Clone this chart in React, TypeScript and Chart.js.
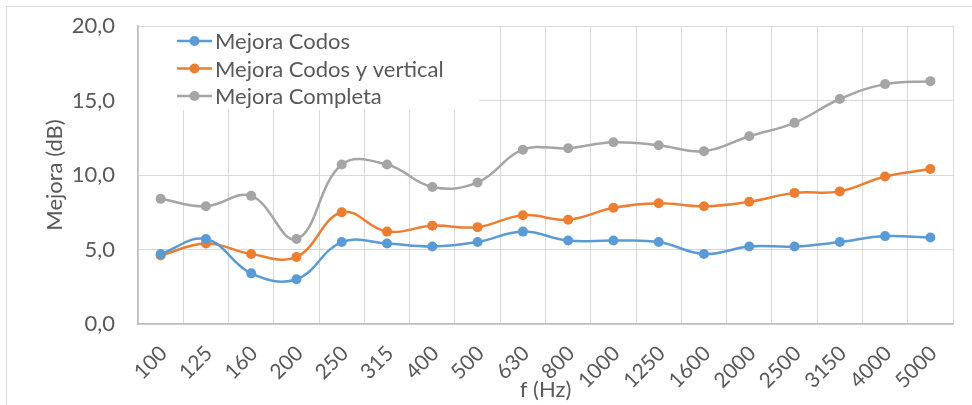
import React, { useEffect, useRef } from "react";
import { Chart, registerables } from "chart.js";

Chart.register(...registerables);

const categories = ["100", "125", "160", "200", "250", "315", "400", "500", "630", "800", "1000", "1250", "1600", "2000", "2500", "3150", "4000", "5000"];
const mejoraCodos = [4.7, 5.7, 3.4, 3.0, 5.5, 5.4, 5.2, 5.5, 6.2, 5.6, 5.6, 5.5, 4.7, 5.2, 5.2, 5.5, 5.9, 5.8];
const mejoraCodosVertical = [4.6, 5.4, 4.7, 4.5, 7.5, 6.2, 6.6, 6.5, 7.3, 7.0, 7.8, 8.1, 7.9, 8.2, 8.8, 8.9, 9.9, 10.4];
const mejoraCompleta = [8.4, 7.9, 8.6, 5.7, 10.7, 10.7, 9.2, 9.5, 11.7, 11.8, 12.2, 12.0, 11.6, 12.6, 13.5, 15.1, 16.1, 16.3];
const seriesLabels = ["Mejora Codos", "Mejora Codos y vertical", "Mejora Completa"];
const seriesColors = ["#5B9BD5", "#ED7D31", "#A5A5A5"];
const yTicks = [0, 5, 10, 15, 20];
const xTitle = "f (Hz)";
const yTitle = "Mejora (dB)";

const FONT = "Lato, 'Liberation Sans', sans-serif";
const TEXT = "#595959";

const frameAndLegend = {
  id: "frameAndLegend",
  beforeDraw(chart: any) {
    const ctx = chart.ctx;
    ctx.save();
    ctx.fillStyle = "#ffffff";
    ctx.fillRect(0, 0, chart.width, chart.height);
    ctx.strokeStyle = "#D9D9D9";
    ctx.lineWidth = 1;
    ctx.strokeRect(6.5, 6.5, chart.width + 20, chart.height + 20);
    ctx.restore();
  },
  beforeDatasetsDraw(chart: any) {
    const ctx = chart.ctx;
    const area = chart.chartArea;
    ctx.save();
    ctx.fillStyle = "#ffffff";
    ctx.fillRect(area.left + 1, area.top + 1, 340, 83);
    ctx.font = "22px " + FONT;
    ctx.textBaseline = "middle";
    ctx.textAlign = "left";
    chart.data.datasets.forEach((ds: any, i: number) => {
      const y = area.top + 15 + i * 27.5;
      const x0 = area.left + 39;
      ctx.strokeStyle = ds.borderColor;
      ctx.lineWidth = 2.5;
      ctx.beginPath();
      ctx.moveTo(x0, y);
      ctx.lineTo(x0 + 35, y);
      ctx.stroke();
      ctx.fillStyle = ds.borderColor;
      ctx.beginPath();
      ctx.arc(x0 + 17.5, y, 5, 0, Math.PI * 2);
      ctx.fill();
      ctx.fillStyle = TEXT;
      ctx.fillText(ds.label, x0 + 38, y + 1);
    });
    ctx.restore();
  },
};

export default function App() {
  const ref = useRef<HTMLCanvasElement>(null);
  useEffect(() => {
    document.body.style.margin = "0";
    const series = [mejoraCodos, mejoraCodosVertical, mejoraCompleta];
    const chart = new Chart(ref.current!, {
      type: "line",
      data: {
        labels: categories,
        datasets: series.map((d, i) => ({
          label: seriesLabels[i],
          data: d,
          borderColor: seriesColors[i],
          backgroundColor: seriesColors[i],
          borderWidth: 2.5,
          pointRadius: 5,
          pointBorderWidth: 0,
          tension: 0.4,
          fill: false,
        })),
      },
      options: {
        animation: false,
        responsive: false,
        layout: { padding: { left: 0, top: 26, right: 19, bottom: 0 } },
        plugins: { legend: { display: false }, tooltip: { enabled: false } },
        scales: {
          x: {
            offset: true,
            afterFit(scale: any) {
              scale.height = 81;
              scale.paddingLeft = 0;
              scale.paddingRight = 0;
            },
            grid: { color: "#D9D9D9", offset: true, drawTicks: false, lineWidth: 1 },
            border: { color: "#BFBFBF", width: 1.5 },
            ticks: {
              color: TEXT,
              font: { family: FONT, size: 21 },
              minRotation: 45,
              maxRotation: 45,
              padding: 17,
              labelOffset: 3,
              autoSkip: false,
            },
            title: {
              display: true,
              text: xTitle,
              color: TEXT,
              font: { family: FONT, size: 22 },
              padding: { top: 0, bottom: 2 },
            },
          },
          y: {
            min: 0,
            max: 20,
            afterFit(scale: any) {
              scale.width = 138;
              scale.paddingTop = 0;
              scale.paddingBottom = 0;
            },
            afterBuildTicks(scale: any) {
              scale.ticks = yTicks.map((v) => ({ value: v }));
            },
            grid: { color: "#D9D9D9", drawTicks: false, lineWidth: 1 },
            border: { color: "#BFBFBF", width: 1.5 },
            ticks: {
              color: TEXT,
              font: { family: FONT, size: 22 },
              padding: 23,
              callback: (v: any) => Number(v).toFixed(1).replace(".", ","),
            },
            title: {
              display: true,
              text: yTitle,
              color: TEXT,
              font: { family: FONT, size: 22 },
              padding: { top: 42, bottom: 0 },
            },
          },
        },
      },
      plugins: [frameAndLegend],
    });
    return () => chart.destroy();
  }, []);
  return <canvas ref={ref} width={972} height={405} style={{ display: "block" }} />;
}
